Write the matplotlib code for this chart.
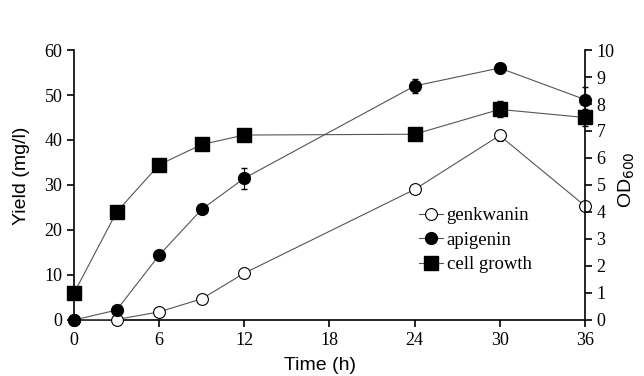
import matplotlib.pyplot as plt

time = [0, 3, 6, 9, 12, 24, 30, 36]
genkwanin = [0, 0.1, 1.8, 4.7, 10.4, 29.0, 41.0, 25.4]
genkwanin_err = [0, 0, 0, 0, 0, 0.5, 1.2, 0.5]
apigenin = [0, 2.2, 14.4, 24.6, 31.5, 52.0, 56.0, 49.0]
apigenin_err = [0, 0, 0, 0, 2.3, 1.5, 0.9, 2.8]
od600 = [1.0, 4.0, 5.75, 6.5, 6.85, 6.88, 7.8, 7.5]
od600_err = [0, 0, 0, 0, 0, 0.1, 0.3, 0.3]

serif = 'Liberation Serif'
sans = 'Liberation Sans'

fig = plt.figure(figsize=(6.44, 3.76), dpi=100)
ax = fig.add_axes([0.115, 0.149, 0.793, 0.718])
ax2 = ax.twinx()

line_kw = dict(color='#555555', lw=0.8, ecolor='black', elinewidth=0.8, capsize=2.5, clip_on=False)
h1 = ax.errorbar(time, genkwanin, yerr=genkwanin_err, marker='o', ms=8.5, mfc='white', mec='black',
                 mew=0.8, zorder=3, **line_kw)
h2 = ax.errorbar(time, apigenin, yerr=apigenin_err, marker='o', ms=8.5, mfc='black', mec='black',
                 zorder=3, **line_kw)
h3 = ax2.errorbar(time, od600, yerr=od600_err, marker='s', ms=9.5, mfc='black', mec='black',
                  zorder=3, **line_kw)

ax.set_xlim(0, 36)
ax.set_ylim(0, 60)
ax2.set_ylim(0, 10)
ax.set_xticks(range(0, 37, 6))
ax.set_yticks(range(0, 61, 10))
ax2.set_yticks(range(0, 11))

for a in (ax, ax2):
    a.spines['top'].set_visible(False)
    for s in a.spines.values():
        s.set_linewidth(1.2)
    a.tick_params(direction='out', length=5, width=1.2, labelsize=13)
    for lab in a.get_xticklabels() + a.get_yticklabels():
        lab.set_fontfamily(serif)
ax.spines['right'].set_visible(False)
ax2.spines['left'].set_visible(False)
ax2.spines['bottom'].set_visible(False)

ax.set_xlabel('Time (h)', fontfamily=sans, fontsize=14, va='center')
ax.xaxis.set_label_coords(0.481, -0.167)
ax.set_ylabel('Yield (mg/l)', fontfamily=sans, fontsize=14, va='center')
ax.yaxis.set_label_coords(-0.102, 0.533)
ax2.set_ylabel('OD$_{600}$', fontfamily=sans, fontsize=14, va='center')
ax2.yaxis.set_label_coords(1.082, 0.52)

leg = ax.legend([h1[0], h2[0], h3[0]], ['genkwanin', 'apigenin', 'cell growth'], loc='lower left',
                bbox_to_anchor=(0.66, 0.145), frameon=False, handlelength=1.3, handletextpad=0.2,
                borderaxespad=0, labelspacing=0.4, prop={'family': serif, 'size': 13.5})

fig.savefig('out.png', dpi=100)
